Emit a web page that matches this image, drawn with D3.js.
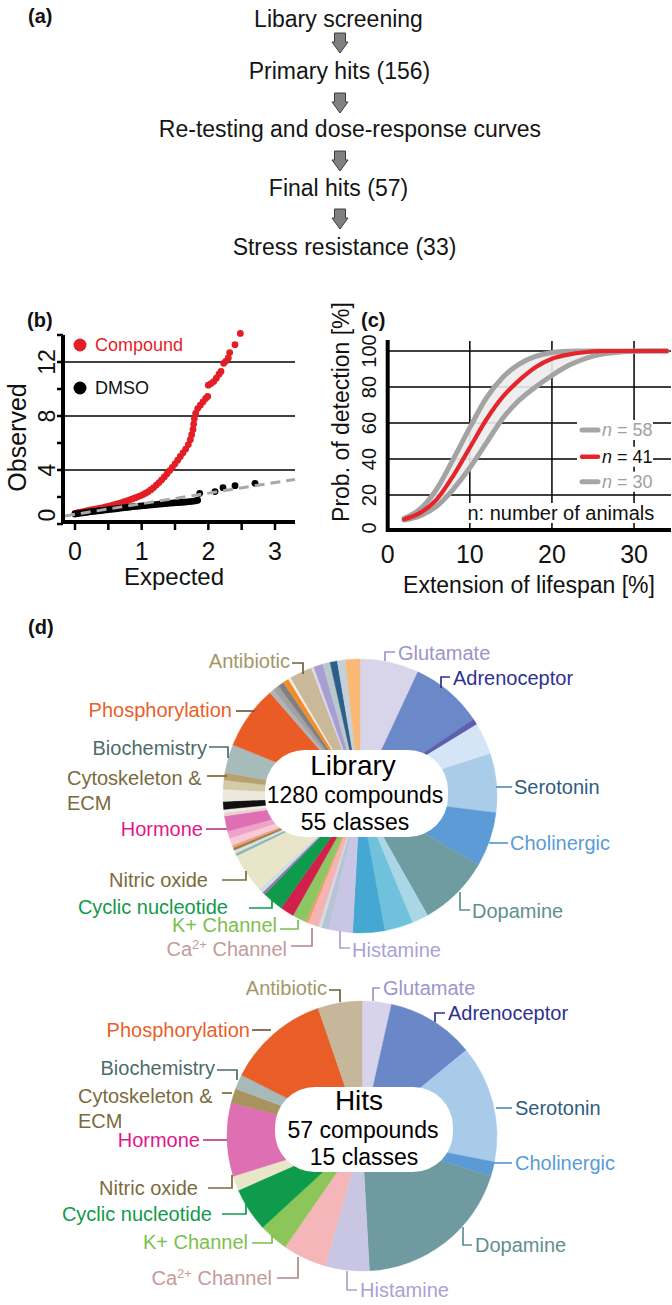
<!DOCTYPE html>
<html><head><meta charset="utf-8">
<script src="https://cdn.jsdelivr.net/npm/d3@7/dist/d3.min.js"></script>
<style>
body{margin:0;background:#fff}
svg{display:block}
text{font-family:"Liberation Sans",Arial,Helvetica,sans-serif}
</style>
</head><body>
<svg id="fig" width="672" height="1305"></svg>
<script>
// ---------------- DATA ----------------
const flowSteps = ["Libary screening","Primary hits (156)","Re-testing and dose-response curves","Final hits (57)","Stress resistance (33)"];

// (b) QQ plot
const qqTicksX = [0,1,2,3];
const qqMinorX = [0,0.5,1,1.5,2,2.5,3];
const qqTicksY = [0,4,8,12];
const qqMinorY = [0,2,4,6,8,10,12,14];
const qqGridY = [4,8,12];
const compoundPoints = [[0.00,0.78],[0.03,0.82],[0.06,0.86],[0.10,0.90],[0.14,0.94],[0.18,0.98],[0.22,1.02],[0.26,1.06],[0.30,1.10],[0.34,1.14],[0.38,1.18],[0.42,1.22],[0.46,1.26],[0.50,1.31],[0.54,1.36],[0.58,1.41],[0.62,1.47],[0.66,1.53],[0.70,1.59],[0.74,1.65],[0.78,1.72],[0.82,1.79],[0.86,1.86],[0.90,1.93],[0.94,2.01],[0.98,2.09],[1.02,2.18],[1.06,2.28],[1.10,2.40],[1.14,2.54],[1.18,2.70],[1.22,2.88],[1.26,3.07],[1.30,3.27],[1.34,3.48],[1.38,3.72],[1.42,3.96],[1.46,4.20],[1.50,4.46],[1.54,4.73],[1.58,5.00],[1.62,5.27],[1.66,5.55],[1.70,5.88],[1.73,6.25],[1.75,6.62],[1.77,7.00],[1.78,7.40],[1.79,7.80],[1.81,8.20],[1.84,8.55],[1.88,8.80],[1.92,9.05],[1.96,9.30],[1.99,9.45],[2.00,10.28],[2.04,10.40],[2.08,10.55],[2.12,10.80],[2.16,11.10],[2.19,11.30],[2.23,11.90],[2.26,12.05],[2.30,12.30],[2.32,12.70],[2.40,13.28],[2.48,14.12]];
const dmsoPoints = [[0.00,0.74],[0.04,0.77],[0.08,0.80],[0.12,0.83],[0.16,0.86],[0.20,0.88],[0.24,0.91],[0.28,0.93],[0.32,0.96],[0.36,0.98],[0.40,1.00],[0.44,1.03],[0.48,1.05],[0.52,1.08],[0.56,1.10],[0.60,1.12],[0.64,1.15],[0.68,1.17],[0.72,1.19],[0.76,1.21],[0.80,1.24],[0.84,1.26],[0.88,1.28],[0.92,1.30],[0.96,1.32],[1.00,1.34],[1.04,1.36],[1.08,1.38],[1.12,1.40],[1.16,1.42],[1.20,1.44],[1.24,1.46],[1.28,1.48],[1.32,1.50],[1.36,1.52],[1.40,1.53],[1.44,1.55],[1.48,1.56],[1.52,1.58],[1.56,1.59],[1.60,1.61],[1.64,1.62],[1.68,1.64],[1.72,1.66],[1.76,1.68],[1.80,1.71],[1.84,1.76],[1.87,2.27],[2.10,2.40],[2.22,2.69],[2.40,2.84],[2.70,3.01]];
const refLine = [[-0.15,0.6],[3.3,3.3]];

// (c) detection probability
const detTicksX = [0,10,20,30];
const detTicksY = [0,20,40,60,80,100];
const detGridX = [10,20,30];
const detGridY = [20,40,60,80,100];
const extX = [2,4,6,8,10,12,14,16,18,20,22,24,26,28,30,34];
const prob58 = [7.0,12.4,23.6,40.1,57.4,73.8,85.3,92.7,97.0,99.2,99.9,100,100,100,100,100];
const prob41 = [6.5,10.2,17.7,30.8,46.3,61.8,74.5,83.7,91.0,95.7,98.0,99.3,99.9,100,100,100];
const prob30 = [6.1,8.5,13.9,23.3,35.1,48.8,62.5,72.6,80.0,86.4,91.9,95.7,98.2,99.3,99.9,100];
const legendN = ["58","41","30"];

// (d) pies
const libNames = ["Glutamate","Adrenoceptor","Adrenoceptor II","Class 4","Serotonin","Cholinergic","Dopamine","Class 8","Class 9","Class 10","Histamine","Class 12","Class 13","Ca2+ Channel","Class 15","K+ Channel","Class 17","Cyclic nucleotide","Class 19","Class 20","Nitric oxide","Class 22","Class 23","Class 24","Class 25","Class 26","Class 27","Hormone","Class 29","Class 30","Class 31","Class 32","Class 33","Cytoskeleton & ECM","Biochemistry","Phosphorylation","Class 37","Class 38","Class 39","Class 40","Class 41","Antibiotic","Class 43","Class 44","Class 45","Class 46","Class 47","Class 48"];
const libCounts = [89,110,9,48,89,82,108,25,43,48,36,11,5,16,4,21,21,32,4,7,60,4,5,4,4,11,11,23,5,5,12,18,14,11,43,96,7,9,9,9,4,34,4,14,11,11,12,22];
const libColors = ["#d8d5eb","#6b88c8","#5d5fae","#d3e5f6","#a9cce9","#5c9bd6","#6f9ca0","#a9d7e6","#6fc1dc","#45a8d3","#c9c5e4","#b6c4d4","#d2dae2","#f5b4b4","#f39b62","#8cc763","#d31f4b","#0e9b4c","#9b72b8","#cde0df","#e9e5c9","#89b7b7","#d7e3df","#a27a4c","#eaa271","#f8c9d9","#f0a2c9","#df6fb4","#e8d3cb","#f2eaea","#111111","#ece8de","#d6caa6","#b5a26f","#a8bbbb","#e95c26","#b1b3b9","#a2a2a2","#808080","#f08c2a","#f1ede1","#c9b99a","#dcd8ea","#a79fd3","#b9c9c9","#2d5d89","#c3d1dd","#f9b877"];

const hitNames = ["Glutamate","Adrenoceptor","Serotonin","Cholinergic","Dopamine","Histamine","Ca2+ Channel","K+ Channel","Cyclic nucleotide","Nitric oxide","Hormone","Cytoskeleton & ECM","Biochemistry","Phosphorylation","Antibiotic"];
const hitCounts = [2,6,8,1,11,3,3,2,3,1,5,1,1,7,3];
const hitColors = ["#d6d3ea","#6a87c8","#a9cbea","#5b9bd5","#6f9ba0","#c9c6e4","#f4b6b8","#8cc65a","#0e9c4c","#e9e5c8","#de6fb3","#a89260","#a7baba","#e95d27","#c6b69a"];

const labelNames = ["Antibiotic","Phosphorylation","Biochemistry","Cytoskeleton & ECM","Hormone","Nitric oxide","Cyclic nucleotide","K+ Channel","Ca2+ Channel","Histamine","Dopamine","Cholinergic","Serotonin","Adrenoceptor","Glutamate"];
const labelColors = ["#a3976a","#e9602a","#4d6b6b","#7a6b3c","#e2178b","#7a6b3c","#129a4b","#7cbf4f","#c49a9a","#a8a3d5","#5f8f8f","#5b9bd5","#2f5d7e","#2e3192","#9a95cc"];
const leaderColors = ["#6e6040","#6e5a40","#4d6b6b","#7a6b3c","#b8428f","#7a6b3c","#129a4b","#7cbf4f","#b08888","#a8a3d5","#5f8f8f","#5b9bd5","#5b8fb8","#2e3192","#9a95cc"];

// ---------------- DRAW ----------------
const svg = d3.select("#fig");
function panelLabel(t,x,y){ svg.append("text").attr("x",x).attr("y",y).style("font-size","20px").style("font-weight","bold").attr("fill","#111").text(t); }

// (a) flowchart
panelLabel("(a)",28,23);
const flowX = [338.5,339.5,350,338.5,344.5];
const flowY = [27,79,137,196,255];
flowSteps.forEach((s,i)=>{
  svg.append("text").attr("x",flowX[i]).attr("y",flowY[i]).attr("text-anchor","middle")
    .style("font-size","23px").attr("fill","#151515").text(s);
});
const arrowTops = [33,93,151,209];
arrowTops.forEach(t=>{
  const cx=340, h=20, sw=5.5, hw=8, sh=9;
  const p = [[cx-sw,t],[cx+sw,t],[cx+sw,t+sh],[cx+hw,t+sh],[cx,t+h],[cx-hw,t+sh],[cx-sw,t+sh]];
  svg.append("path").attr("d","M"+p.map(q=>q.join(",")).join("L")+"Z")
    .attr("fill","#808080").attr("stroke","#3c3c3c").attr("stroke-width",1);
});

// (b) QQ plot
panelLabel("(b)",27,327);
const qx = d3.scaleLinear().domain([-0.18,3.3]).range([63,295]);
const qy = d3.scaleLinear().domain([0,14]).range([524,335]);
const gb = svg.append("g");
gb.selectAll(".gy").data(qqGridY).join("line")
  .attr("x1",qx(-0.18)).attr("x2",qx(3.3)).attr("y1",d=>qy(d)).attr("y2",d=>qy(d))
  .attr("stroke","#000").attr("stroke-width",1.3);
gb.selectAll(".cp").data(compoundPoints).join("circle")
  .attr("cx",d=>qx(d[0])).attr("cy",d=>qy(d[1])).attr("r",3.4).attr("fill","#e41e26");
gb.selectAll(".dp").data(dmsoPoints).join("circle")
  .attr("cx",d=>qx(d[0])).attr("cy",d=>qy(d[1])).attr("r",3.4).attr("fill","#000");
gb.append("path").attr("d",d3.line().x(d=>qx(d[0])).y(d=>qy(d[1]))(refLine))
  .attr("stroke","#a8a8a8").attr("stroke-width",3).attr("stroke-dasharray","10,6").attr("fill","none");
gb.append("line").attr("x1",63).attr("x2",63).attr("y1",qy(14)).attr("y2",524).attr("stroke","#000").attr("stroke-width",4);
gb.append("line").attr("x1",61).attr("x2",qx(3.3)).attr("y1",522).attr("y2",522).attr("stroke","#000").attr("stroke-width",4);
gb.selectAll(".tx").data(qqMinorX).join("line")
  .attr("x1",d=>qx(d)).attr("x2",d=>qx(d)).attr("y1",522).attr("y2",530).attr("stroke","#000").attr("stroke-width",2.5);
gb.selectAll(".ty").data(qqMinorY).join("line")
  .attr("x1",57).attr("x2",63).attr("y1",d=>qy(d)).attr("y2",d=>qy(d)).attr("stroke","#000").attr("stroke-width",2.5);
gb.selectAll(".lx").data(qqTicksX).join("text")
  .attr("x",d=>qx(d)).attr("y",560).attr("text-anchor","middle").style("font-size","25px").attr("fill","#111").text(d=>d);
gb.selectAll(".ly").data(qqTicksY).join("text")
  .attr("transform",d=>`translate(46.5,${d===0?qy(d)-9:qy(d)}) rotate(-90)`)
  .attr("text-anchor","middle").attr("dy","0.35em").style("font-size","23px").attr("fill","#111").text(d=>d);
gb.append("text").attr("transform","translate(17.5,437.5) rotate(-90)").attr("text-anchor","middle").attr("dy","0.35em")
  .style("font-size","25px").attr("fill","#111").text("Observed");
gb.append("text").attr("x",174).attr("y",585).attr("text-anchor","middle").style("font-size","24px").attr("fill","#111").text("Expected");
gb.append("circle").attr("cx",80).attr("cy",345).attr("r",6.5).attr("fill","#e41e26");
gb.append("text").attr("x",95).attr("y",345).attr("dy","0.35em").style("font-size","18px").attr("fill","#e41e26").text("Compound");
gb.append("circle").attr("cx",80).attr("cy",388).attr("r",6.5).attr("fill","#000");
gb.append("text").attr("x",95).attr("y",388).attr("dy","0.35em").style("font-size","18px").attr("fill","#111").text("DMSO");

// (c) detection probability
panelLabel("(c)",361,327);
const cx = d3.scaleLinear().domain([0,34.5]).range([387.7,671]);
const cy = d3.scaleLinear().domain([0,100]).range([531,351]);
const gc = svg.append("g");
gc.selectAll(".gx").data(detGridX).join("line")
  .attr("x1",d=>cx(d)).attr("x2",d=>cx(d)).attr("y1",341).attr("y2",530).attr("stroke","#000").attr("stroke-width",1.5);
gc.selectAll(".gy").data(detGridY).join("line")
  .attr("x1",cx(0)).attr("x2",cx(34.5)).attr("y1",d=>cy(d)).attr("y2",d=>cy(d)).attr("stroke","#000").attr("stroke-width",1.5);
const bandData = extX.map((x,i)=>({x, hi:prob58[i], lo:prob30[i]}));
gc.append("path").attr("d",d3.area().curve(d3.curveMonotoneX).x(d=>cx(d.x)).y0(d=>cy(d.lo)).y1(d=>cy(d.hi))(bandData))
  .attr("fill","#ececec").attr("opacity",0.9);
const lineGen = d3.line().curve(d3.curveMonotoneX).x(d=>cx(d[0])).y(d=>cy(d[1]));
[prob58,prob30].forEach(arr=>{
  gc.append("path").attr("d",lineGen(extX.map((x,i)=>[x,arr[i]])))
    .attr("fill","none").attr("stroke","#a3a3a3").attr("stroke-width",5).attr("stroke-linecap","round");
});
gc.append("path").attr("d",lineGen(extX.map((x,i)=>[x,prob41[i]])))
  .attr("fill","none").attr("stroke","#e4262c").attr("stroke-width",4.2).attr("stroke-linecap","round");
const legY = [430,456.7,481.7];
const legCol = ["#a6a6a6","#e4262c","#a6a6a6"];
const legTxt = ["#a0a0a0","#111","#a0a0a0"];
legendN.forEach((n,i)=>{
  gc.append("rect").attr("x",577).attr("y",legY[i]-10).attr("width",76).attr("height",20).attr("fill","#fff");
  gc.append("line").attr("x1",582).attr("x2",598).attr("y1",legY[i]).attr("y2",legY[i])
    .attr("stroke",legCol[i]).attr("stroke-width",i===1?4.5:5).attr("stroke-linecap","round");
  const t = gc.append("text").attr("x",602).attr("y",legY[i]).attr("dy","0.35em").style("font-size","18px").attr("fill",legTxt[i]);
  t.append("tspan").style("font-style","italic").text("n");
  t.append("tspan").text(" = "+n);
});
gc.append("rect").attr("x",465).attr("y",503).attr("width",196).attr("height",20).attr("fill","#fff");
gc.append("text").attr("x",467.5).attr("y",513).attr("dy","0.35em").style("font-size","20px").attr("fill","#111").text("n: number of animals");
gc.append("line").attr("x1",cx(0)).attr("x2",cx(0)).attr("y1",340).attr("y2",532).attr("stroke","#000").attr("stroke-width",4);
gc.append("line").attr("x1",386).attr("x2",671).attr("y1",530).attr("y2",530).attr("stroke","#000").attr("stroke-width",4);
gc.selectAll(".lx").data(detTicksX).join("text")
  .attr("x",d=>cx(d)).attr("y",563).attr("text-anchor","middle").style("font-size","25px").attr("fill","#111").text(d=>d);
gc.selectAll(".ly").data(detTicksY).join("text")
  .attr("transform",d=>`translate(369,${d===0?cy(d)-3:cy(d)}) rotate(-90)`)
  .attr("text-anchor","middle").attr("dy","0.35em").style("font-size","20px").attr("fill","#111").text(d=>d);
gc.append("text").attr("transform","translate(341,412) rotate(-90)").attr("text-anchor","middle").attr("dy","0.35em")
  .style("font-size","23px").attr("fill","#111").text("Prob. of detection [%]");
gc.append("text").attr("x",529).attr("y",593).attr("text-anchor","middle").style("font-size","23px").attr("fill","#111").text("Extension of lifespan [%]");

// (d) pies
panelLabel("(d)",28,634);
const libLayout = [
  {n:"Antibiotic",a:"end",x:290,y:661,p:[[292,663],[303,663],[303,674]]},
  {n:"Phosphorylation",a:"end",x:232,y:710,p:[[236,711],[255,711]]},
  {n:"Biochemistry",a:"end",x:207,y:748,p:[[209,747],[228,747],[228,758]]},
  {n:"Cytoskeleton & ECM",a:"start",x:67,y:778,p:[[207,776],[227,776]]},
  {n:"Hormone",a:"end",x:203,y:829,p:[[206,829],[227,829]]},
  {n:"Nitric oxide",a:"end",x:208,y:880,p:[[222,880],[246,880],[246,871]]},
  {n:"Cyclic nucleotide",a:"end",x:228,y:907,p:[[249,908],[272,908],[272,898]]},
  {n:"K+ Channel",a:"end",x:277,y:925,p:[[280,929],[298,929],[298,920]]},
  {n:"Ca2+ Channel",a:"end",x:287,y:949,p:[[291,946],[312,946],[312,928]]},
  {n:"Histamine",a:"start",x:352,y:950,p:[[340,931],[340,948],[350,948]]},
  {n:"Dopamine",a:"start",x:472,y:911,p:[[460,892],[460,910],[470,910]]},
  {n:"Cholinergic",a:"start",x:510,y:843,p:[[489,843],[508,843]]},
  {n:"Serotonin",a:"start",x:514,y:787,p:[[496,787],[512,787]]},
  {n:"Adrenoceptor",a:"start",x:453,y:678,p:[[441,688],[441,677],[450,677]]},
  {n:"Glutamate",a:"start",x:398,y:653,p:[[385,661],[385,652],[395,652]]}
];
const hitLayout = [
  {n:"Antibiotic",a:"end",x:327,y:988,p:[[329,990],[340,990],[340,1002]]},
  {n:"Glutamate",a:"start",x:383,y:988,p:[[373,1001],[373,988],[380,988]]},
  {n:"Adrenoceptor",a:"start",x:448,y:1013,p:[[435,1022],[435,1013],[445,1013]]},
  {n:"Serotonin",a:"start",x:515,y:1108,p:[[496,1108],[512,1108]]},
  {n:"Cholinergic",a:"start",x:515,y:1163,p:[[492,1163],[512,1163]]},
  {n:"Dopamine",a:"start",x:475,y:1245,p:[[463,1227],[463,1245],[472,1245]]},
  {n:"Histamine",a:"start",x:360,y:1290,p:[[347,1271],[347,1290],[357,1290]]},
  {n:"Ca2+ Channel",a:"end",x:272,y:1278,p:[[277,1278],[298,1278],[298,1257]]},
  {n:"K+ Channel",a:"end",x:248,y:1242,p:[[252,1243],[272,1243],[272,1235]]},
  {n:"Cyclic nucleotide",a:"end",x:212,y:1214,p:[[222,1214],[246,1214],[246,1201]]},
  {n:"Nitric oxide",a:"end",x:198,y:1188,p:[[208,1188],[232,1188],[232,1175]]},
  {n:"Hormone",a:"end",x:200,y:1140,p:[[203,1140],[227,1140]]},
  {n:"Cytoskeleton & ECM",a:"start",x:78,y:1096,p:[[222,1093],[232,1093]]},
  {n:"Biochemistry",a:"end",x:215,y:1068,p:[[217,1070],[237,1070],[237,1080]]},
  {n:"Phosphorylation",a:"end",x:250,y:1030,p:[[252,1030],[271,1030]]}
];

function drawPie(names,counts,colors,pcx,pcy,r,layout,box,title,lines){
  const g = svg.append("g");
  const data = names.map((n,i)=>({name:n,value:counts[i],color:colors[i]}));
  const arcs = d3.pie().sort(null).value(d=>d.value)(data);
  const arc = d3.arc().innerRadius(0).outerRadius(r);
  g.append("g").attr("transform",`translate(${pcx},${pcy})`).selectAll("path").data(arcs).join("path")
    .attr("d",arc).attr("fill",d=>d.data.color).attr("stroke",d=>d.data.color).attr("stroke-width",0.4);
  layout.forEach(L=>{
    const k = labelNames.indexOf(L.n);
    g.append("path").attr("d",d3.line()(L.p)).attr("fill","none").attr("stroke",leaderColors[k]).attr("stroke-width",1.7);
    const t = g.append("text").attr("text-anchor",L.a).attr("fill",labelColors[k]).style("font-size","20px");
    if(L.n==="Ca2+ Channel"){
      t.attr("x",L.x).attr("y",L.y+7);
      t.append("tspan").text("Ca");
      t.append("tspan").attr("dy",-7).style("font-size","13px").text("2+");
      t.append("tspan").attr("dy",7).text(" Channel");
    } else if(L.n==="Cytoskeleton & ECM"){
      t.append("tspan").attr("x",L.x).attr("y",L.y+7).text("Cytoskeleton &");
      t.append("tspan").attr("x",L.x).attr("y",L.y+32).text("ECM");
    } else {
      t.attr("x",L.x).attr("y",L.y+7).text(L.n);
    }
  });
  g.append("rect").attr("x",box[0]).attr("y",box[1]).attr("width",box[2]).attr("height",box[3])
    .attr("rx",40).attr("ry",40).attr("fill","#fff");
  g.append("text").attr("x",lines[0][0]).attr("y",lines[0][1]).attr("text-anchor","middle").style("font-size","28px").attr("fill","#000").text(title[0]);
  g.append("text").attr("x",lines[1][0]).attr("y",lines[1][1]).attr("text-anchor","middle").style("font-size","23px").attr("fill","#000").text(title[1]);
  g.append("text").attr("x",lines[2][0]).attr("y",lines[2][1]).attr("text-anchor","middle").style("font-size","23px").attr("fill","#000").text(title[2]);
}
drawPie(libNames,libCounts,libColors,360,796,137,libLayout,[265,750,183,87],
  ["Library","1280 compounds","55 classes"],[[353,775],[355,803],[355,830]]);
drawPie(hitNames,hitCounts,hitColors,362,1136,135,hitLayout,[275,1087,178,85],
  ["Hits","57 compounds","15 classes"],[[359,1110],[363,1138],[364,1165]]);
</script>
</body></html>
